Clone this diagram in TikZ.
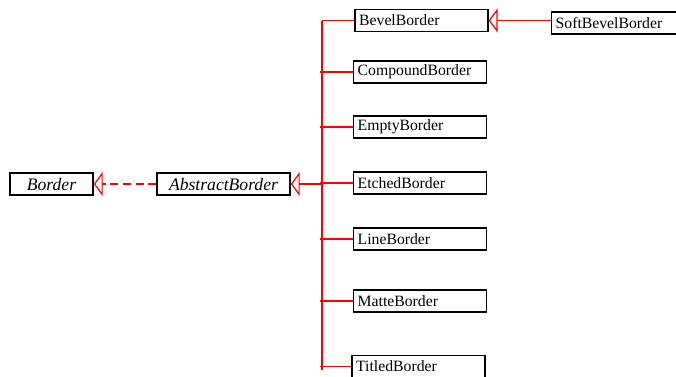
\documentclass[tikz,border=0pt]{standalone}
\usepackage{fontspec}
\setmainfont{Liberation Serif}
\usepackage{tikz}
\usetikzlibrary{arrows.meta,positioning,calc}

\begin{document}
\begin{tikzpicture}[x=0.75pt,y=-0.75pt,
  font=\fontsize{11.8}{13}\selectfont,
  cls/.style={draw=black,line width=1.1pt,fill=white,inner xsep=3pt,inner ysep=0pt,
    minimum height=16.5pt,text width=93.5pt,align=left},
  iface/.style={cls,text width={},align=center,font=\fontsize{13.2}{14}\selectfont\itshape},
  ext/.style={draw=red,line width=0.9pt},
  inh/.style={ext,-{Triangle[open,length=6.75pt,width=18pt]}},
  real/.style={inh,dash pattern=on 6pt off 3.5pt}]
\useasboundingbox (0,0) rectangle (676,376);

\node[iface,minimum width=62.25pt] (border) at (51.5,184) {Border};
\node[iface,minimum width=99.75pt] (abstract) at (223.5,184) {AbstractBorder};

\node[cls] (bevel) at (421.5,20.5) {BevelBorder};
\node[cls] (compound) at (420,72) {CompoundBorder};
\node[cls] (empty) at (420,127) {EmptyBorder};
\node[cls] (etched) at (420,183) {EtchedBorder};
\node[cls] (line) at (420,239) {LineBorder};
\node[cls] (matte) at (420,301) {MatteBorder};
\node[cls] (titled) at (418.5,366.5) {TitledBorder};
\node[cls,text width=89pt] (soft) at (615,23) {SoftBevelBorder};

% shared trunk of the subclasses
\coordinate (top) at (322,20.5);
\coordinate (bot) at (322,370);
\draw[ext] (top) -- (bot);

\draw[real] (abstract.west) -- (border.east);
\draw[inh] (abstract.east -| top) -- (abstract.east);
\draw[inh] (soft.west |- bevel.east) -- (bevel.east);

\draw[ext] (top |- bevel.west) -- (bevel.west);
\draw[ext,shorten <=-1.5pt] (top |- compound.west) -- (compound.west);
\draw[ext,shorten <=-1.5pt] (top |- empty.west) -- (empty.west);
\draw[ext,shorten <=-1.5pt] (top |- etched.west) -- (etched.west);
\draw[ext,shorten <=-1.5pt] (top |- line.west) -- (line.west);
\draw[ext,shorten <=-1.5pt] (top |- matte.west) -- (matte.west);
\draw[ext,shorten <=-1.5pt] (top |- titled.west) -- (titled.west);
\end{tikzpicture}
\end{document}
